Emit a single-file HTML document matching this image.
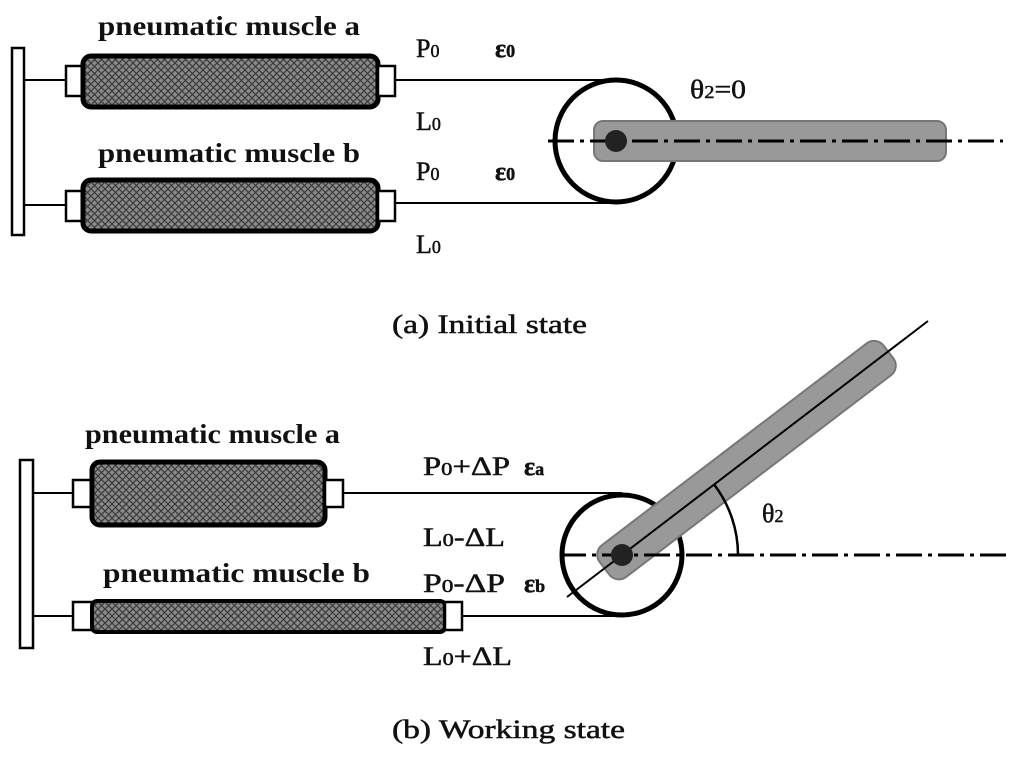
<!DOCTYPE html>
<html><head><style>
html,body{margin:0;padding:0;background:#fff;}
svg{display:block;}
text{font-family:"Liberation Serif",serif;fill:#111;}
.b{font-weight:bold;font-size:27px;}
.l{font-size:26px;stroke:#111;stroke-width:0.5;}
</style></head><body>
<svg width="1024" height="766" viewBox="0 0 1024 766" xmlns="http://www.w3.org/2000/svg">
<defs>
<pattern id="h" width="7" height="7" patternUnits="userSpaceOnUse">
<rect width="7" height="7" fill="#8a8a8a"/>
<path d="M0 0L7 7M7 0L0 7" stroke="#3a3a3a" stroke-width="1.2"/>
</pattern>
</defs>
<!-- TOP -->
<rect x="12" y="48" width="12" height="187" fill="#fff" stroke="#000" stroke-width="2.5"/>
<line x1="24" y1="80" x2="66" y2="80" stroke="#000" stroke-width="2"/>
<line x1="24" y1="205" x2="66" y2="205" stroke="#000" stroke-width="2"/>
<rect x="66" y="66" width="18" height="30" fill="#fff" stroke="#000" stroke-width="2.5"/>
<rect x="83" y="56" width="295" height="51" rx="8" fill="url(#h)" stroke="#000" stroke-width="5"/>
<rect x="378" y="66" width="17" height="30" fill="#fff" stroke="#000" stroke-width="2.5"/>
<rect x="66" y="191" width="18" height="30" fill="#fff" stroke="#000" stroke-width="2.5"/>
<rect x="83" y="180" width="295" height="51" rx="8" fill="url(#h)" stroke="#000" stroke-width="5"/>
<rect x="378" y="191" width="17" height="30" fill="#fff" stroke="#000" stroke-width="2.5"/>
<line x1="395" y1="80" x2="616" y2="80" stroke="#000" stroke-width="2"/>
<line x1="395" y1="203" x2="616" y2="203" stroke="#000" stroke-width="2"/>
<circle cx="616" cy="141" r="61" fill="#fff" stroke="#000" stroke-width="5"/>
<rect x="594" y="121" width="352" height="40" rx="9" fill="#999" stroke="#777" stroke-width="2"/>
<line x1="548" y1="141" x2="1003" y2="141" stroke="#000" stroke-width="3" stroke-dasharray="26,6,4,6"/>
<circle cx="616" cy="141" r="11" fill="#222"/>
<text class="b" x="98" y="35" textLength="262" lengthAdjust="spacingAndGlyphs">pneumatic muscle a</text>
<text class="b" x="98" y="162" textLength="262" lengthAdjust="spacingAndGlyphs">pneumatic muscle b</text>
<text class="l" x="416" y="57">P<tspan font-size="18">0</tspan></text>
<text class="l" x="495" y="57" font-weight="bold">ε<tspan font-size="18">0</tspan></text>
<text class="l" x="416" y="130">L<tspan font-size="18">0</tspan></text>
<text class="l" x="416" y="180">P<tspan font-size="18">0</tspan></text>
<text class="l" x="495" y="180" font-weight="bold">ε<tspan font-size="18">0</tspan></text>
<text class="l" x="416" y="253">L<tspan font-size="18">0</tspan></text>
<text class="l" x="690" y="98" textLength="56" lengthAdjust="spacingAndGlyphs">θ<tspan font-size="18">2</tspan>=0</text>
<text class="l" x="392" y="333" textLength="195" lengthAdjust="spacingAndGlyphs">(a) Initial state</text>
<!-- BOTTOM -->
<rect x="20" y="460" width="13" height="188" fill="#fff" stroke="#000" stroke-width="2.5"/>
<line x1="33" y1="493" x2="73" y2="493" stroke="#000" stroke-width="2"/>
<line x1="33" y1="616" x2="73" y2="616" stroke="#000" stroke-width="2"/>
<rect x="73" y="480" width="19" height="27" fill="#fff" stroke="#000" stroke-width="2.5"/>
<rect x="92" y="462" width="233" height="63" rx="8" fill="url(#h)" stroke="#000" stroke-width="5"/>
<rect x="325" y="480" width="18" height="27" fill="#fff" stroke="#000" stroke-width="2.5"/>
<rect x="73" y="602" width="19" height="28" fill="#fff" stroke="#000" stroke-width="2.5"/>
<rect x="92" y="601" width="353" height="31" rx="5" fill="url(#h)" stroke="#000" stroke-width="4"/>
<rect x="445" y="602" width="17" height="28" fill="#fff" stroke="#000" stroke-width="2.5"/>
<line x1="343" y1="493" x2="622" y2="493" stroke="#000" stroke-width="2"/>
<line x1="462" y1="616" x2="622" y2="616" stroke="#000" stroke-width="2"/>
<circle cx="622" cy="555" r="60" fill="#fff" stroke="#000" stroke-width="5"/>
<g transform="translate(622,555) rotate(-37.3)">
<rect x="-22" y="-20" width="357" height="40" rx="12" fill="#999" stroke="#777" stroke-width="2"/>
</g>
<line x1="567" y1="597" x2="928" y2="321" stroke="#000" stroke-width="2"/>
<line x1="560" y1="555" x2="1008" y2="555" stroke="#000" stroke-width="3" stroke-dasharray="26,6,4,6"/>
<path d="M738 555 A116 116 0 0 0 714.3 484.8" fill="none" stroke="#000" stroke-width="2.5"/>
<circle cx="622" cy="555" r="11" fill="#222"/>
<text class="b" x="85" y="443" textLength="255" lengthAdjust="spacingAndGlyphs">pneumatic muscle a</text>
<text class="b" x="103" y="582" textLength="267" lengthAdjust="spacingAndGlyphs">pneumatic muscle b</text>
<text class="l" x="423" y="475" textLength="87" lengthAdjust="spacingAndGlyphs">P<tspan font-size="18">0</tspan>+ΔP</text>
<text class="l" x="524" y="475" font-weight="bold">ε<tspan font-size="18">a</tspan></text>
<text class="l" x="423" y="546" textLength="82" lengthAdjust="spacingAndGlyphs">L<tspan font-size="18">0</tspan>-ΔL</text>
<text class="l" x="423" y="592" textLength="82" lengthAdjust="spacingAndGlyphs">P<tspan font-size="18">0</tspan>-ΔP</text>
<text class="l" x="524" y="592" font-weight="bold">ε<tspan font-size="18">b</tspan></text>
<text class="l" x="423" y="665" textLength="89" lengthAdjust="spacingAndGlyphs">L<tspan font-size="18">0</tspan>+ΔL</text>
<text class="l" x="762" y="522">θ<tspan font-size="18">2</tspan></text>
<text class="l" x="392" y="738" textLength="233" lengthAdjust="spacingAndGlyphs">(b) Working state</text>
</svg>
</body></html>
